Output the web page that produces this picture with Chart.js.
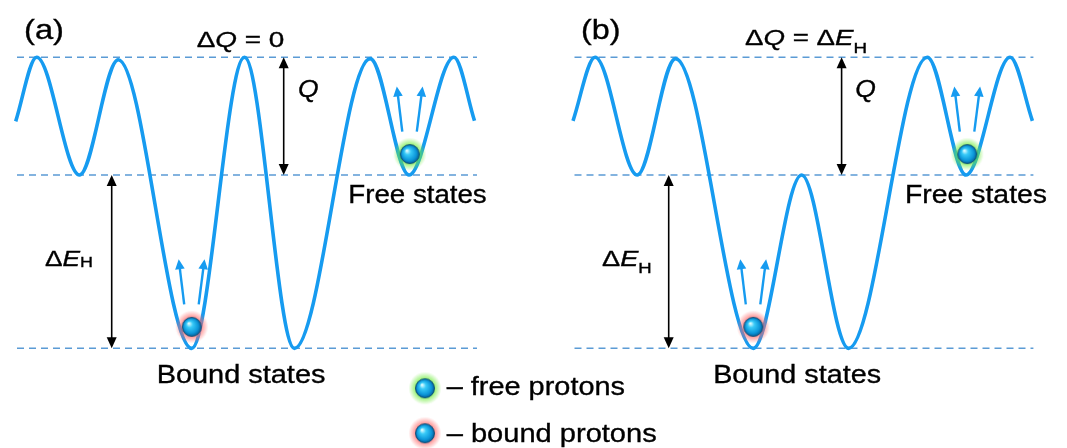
<!DOCTYPE html>
<html>
<head>
<meta charset="utf-8">
<script src="https://cdn.jsdelivr.net/npm/chart.js@4/dist/chart.umd.min.js"></script>
<style>
  html, body { margin: 0; padding: 0; background: #fff; }
  canvas { display: block; }
</style>
</head>
<body>
<canvas id="landscape" width="1067" height="448"></canvas>
<script>
// coordinate along the row, energy in units of ΔE_H above the bound level
const coordA = [15.7, 36.7, 79.5, 118.2, 191.7, 244.5, 294.4, 370.2, 409.0, 453.9, 474.5]
const energyA = [1.31, 1.68, 1.0, 1.665, 0, 1.68, 0, 1.672, 1.0, 1.68, 1.313]
const coordB = [573.0, 595.1, 637.2, 675.5, 753.3, 801.6, 848.5, 927.3, 966.0, 1010.1, 1032.4]
const energyB = [1.313, 1.68, 1.0, 1.672, 0, 1.0, 0, 1.68, 1.0, 1.68, 1.313]

// bound level, free level, barrier top
const levels = [0, 1, 1.68]
const spanA = [17, 477]
const spanB = [574.5, 1033.4]

// protons sitting in the wells
const freeCoord = [409.8, 967.3]
const freeEnergy = 1.121
const boundCoord = [191.7, 753.3]
const boundEnergy = 0.124

// double arrows: Q between free level and top, ΔE_H between bound and free level
const qArrowCoord = [283.7, 841.6]
const dEArrowCoord = [111.7, 668.7]

const BLUE = 'rgb(22,155,240)'
const DASH = '#5b9bd5'
const FONT = "'Liberation Sans', Arial, sans-serif"

function protonSprite(glow) {
  const size = 40
  const c = document.createElement('canvas')
  c.width = c.height = size
  const g = c.getContext('2d')
  const m = size / 2, r = 9.5
  const halo = g.createRadialGradient(m, m, r - 2, m, m, r + 7)
  halo.addColorStop(0, `rgba(${glow},0.9)`)
  halo.addColorStop(0.45, `rgba(${glow},0.5)`)
  halo.addColorStop(1, `rgba(${glow},0)`)
  g.fillStyle = halo
  g.fillRect(0, 0, size, size)
  const body = g.createRadialGradient(m - 3, m - 3.5, 0.5, m, m, r)
  body.addColorStop(0, '#dcfcff')
  body.addColorStop(0.3, '#38caf8')
  body.addColorStop(0.75, '#0c96d9')
  body.addColorStop(1, '#06609a')
  g.fillStyle = body
  g.beginPath()
  g.arc(m, m, r, 0, Math.PI * 2)
  g.fill()
  g.strokeStyle = 'rgba(5,70,110,0.85)'
  g.lineWidth = 1
  g.stroke()
  return c
}

const freeSprite = protonSprite('110,235,60')
const boundSprite = protonSprite('255,105,105')

const pts = (xs, ys) => xs.map((x, i) => ({ x, y: Array.isArray(ys) ? ys[i] : ys }))

function levelLine(span, e) {
  return {
    data: pts(span, e),
    borderColor: DASH,
    borderWidth: 1.5,
    borderDash: [7, 5],
    pointRadius: 0,
    order: 3
  }
}

// text pieces: [text, style] where style is '' | 'i' | 'sub'
const labels = [
  { runs: [['(a)']], left: 24, base: 39, size: 28, width: 40 },
  { runs: [['(b)']], left: 581, base: 39, size: 28, width: 39.5 },
  { runs: [['Δ'], ['Q', 'i'], [' = 0']], left: 196.7, base: 47.3, size: 22.5, width: 87.5 },
  { runs: [['Δ'], ['Q', 'i'], [' = Δ'], ['E', 'i'], ['H', 'sub']], left: 745, base: 45, size: 22.5, width: 122, subDy: 7.7 },
  { runs: [['Q', 'i']], left: 298, base: 97, size: 24, width: 20.6 },
  { runs: [['Q', 'i']], left: 855.3, base: 97, size: 24, width: 20.6 },
  { runs: [['Δ'], ['E', 'i'], ['H', 'sub']], left: 45, base: 266, size: 22, width: 48, subDy: 1 },
  { runs: [['Δ'], ['E', 'i'], ['H', 'sub']], left: 602, base: 265.5, size: 22, width: 49.7, subDy: 7.5 },
  { runs: [['Free states']], left: 348.3, base: 203.3, size: 25.5, width: 138.4 },
  { runs: [['Free states']], left: 905, base: 203.3, size: 25.5, width: 142 },
  { runs: [['Bound states']], left: 156.7, base: 382.7, size: 25, width: 168.7 },
  { runs: [['Bound states']], left: 713.2, base: 382.7, size: 25, width: 167.8 },
  { runs: [['– free protons']], left: 446.7, base: 395, size: 26.5, width: 178.3 },
  { runs: [['– bound protons']], left: 446.7, base: 441.7, size: 26.5, width: 210 }
]

function runFont(run, size) {
  if (run[1] === 'sub') return `${(size * 0.68).toFixed(1)}px ${FONT}`
  if (run[1] === 'i') return `italic ${size}px ${FONT}`
  return `${size}px ${FONT}`
}

function drawLabel(ctx, lab) {
  let natural = 0
  const widths = lab.runs.map(r => {
    ctx.font = runFont(r, lab.size)
    const w = ctx.measureText(r[0]).width
    natural += w
    return w
  })
  ctx.save()
  ctx.translate(lab.left, lab.base)
  ctx.scale(lab.width / natural, 1)
  ctx.fillStyle = '#000'
  ctx.strokeStyle = '#000'
  ctx.lineWidth = 0.35
  ctx.textBaseline = 'alphabetic'
  let cx = 0
  lab.runs.forEach((r, i) => {
    ctx.font = runFont(r, lab.size)
    const dy = r[1] === 'sub' ? (lab.subDy || 0) : 0
    ctx.fillText(r[0], cx, dy)
    ctx.strokeText(r[0], cx, dy)
    cx += widths[i]
  })
  ctx.restore()
}

function arrowHead(ctx, x0, y0, x1, y1, len, half) {
  const a = Math.atan2(y1 - y0, x1 - x0)
  ctx.beginPath()
  ctx.moveTo(x1, y1)
  ctx.lineTo(x1 - len * Math.cos(a) + half * Math.sin(a), y1 - len * Math.sin(a) - half * Math.cos(a))
  ctx.lineTo(x1 - len * Math.cos(a) - half * Math.sin(a), y1 - len * Math.sin(a) + half * Math.cos(a))
  ctx.closePath()
  ctx.fill()
}

function arrow(ctx, x0, y0, x1, y1, color, width, len, half, both) {
  const a = Math.atan2(y1 - y0, x1 - x0)
  ctx.strokeStyle = color
  ctx.fillStyle = color
  ctx.lineWidth = width
  ctx.beginPath()
  ctx.moveTo(both ? x0 + len * 0.8 * Math.cos(a) : x0, both ? y0 + len * 0.8 * Math.sin(a) : y0)
  ctx.lineTo(x1 - len * 0.8 * Math.cos(a), y1 - len * 0.8 * Math.sin(a))
  ctx.stroke()
  arrowHead(ctx, x0, y0, x1, y1, len, half)
  if (both) arrowHead(ctx, x1, y1, x0, y0, len, half)
}

const annotations = {
  id: 'annotations',
  afterDatasetsDraw(chart) {
    const { ctx } = chart
    const x = chart.scales.x, y = chart.scales.y
    ctx.save()
    ctx.lineCap = 'butt'

    // energy gaps
    qArrowCoord.forEach(c => {
      arrow(ctx, x.getPixelForValue(c), y.getPixelForValue(levels[1]),
        x.getPixelForValue(c), y.getPixelForValue(levels[2]), '#000', 1.6, 11, 5, true)
    })
    dEArrowCoord.forEach(c => {
      arrow(ctx, x.getPixelForValue(c), y.getPixelForValue(levels[0]),
        x.getPixelForValue(c), y.getPixelForValue(levels[1]), '#000', 1.6, 11, 5, true)
    })

    // thermal kicks above each proton
    const kicks = [...freeCoord.map(c => [c, freeEnergy]), ...boundCoord.map(c => [c, boundEnergy])]
    kicks.forEach(([c, e]) => {
      [[-7.5, -13], [7, 12.8]].forEach(([tail, tip]) => {
        arrow(ctx, x.getPixelForValue(c + tail), y.getPixelForValue(e + 0.13),
          x.getPixelForValue(c + tip), y.getPixelForValue(e + 0.39), BLUE, 2.4, 10, 4.8, false)
      })
    })

    // key
    ctx.drawImage(freeSprite, 425 - freeSprite.width / 2, 388.3 - freeSprite.height / 2)
    ctx.drawImage(boundSprite, 425 - boundSprite.width / 2, 433.3 - boundSprite.height / 2)

    labels.forEach(l => drawLabel(ctx, l))
    ctx.restore()
  }
}

new Chart(document.getElementById('landscape'), {
  type: 'line',
  data: {
    datasets: [
      { type: 'scatter', label: 'free protons', data: pts(freeCoord, freeEnergy), pointStyle: freeSprite, pointRadius: 9.5, order: 0 },
      { type: 'scatter', label: 'bound protons', data: pts(boundCoord, boundEnergy), pointStyle: boundSprite, pointRadius: 9.5, order: 0 },
      { label: '(a)', data: pts(coordA, energyA), borderColor: BLUE, borderWidth: 3.6, cubicInterpolationMode: 'monotone', pointRadius: 0, order: 1 },
      { label: '(b)', data: pts(coordB, energyB), borderColor: BLUE, borderWidth: 3.6, cubicInterpolationMode: 'monotone', pointRadius: 0, order: 1 },
      ...levels.map(e => levelLine(spanA, e)),
      ...levels.map(e => levelLine(spanB, e))
    ]
  },
  options: {
    responsive: false,
    animation: false,
    devicePixelRatio: 1,
    layout: { padding: 0, autoPadding: false },
    scales: {
      x: { type: 'linear', min: 0, max: 1067, display: false },
      y: { type: 'linear', min: -0.575, max: 2.01, display: false }
    },
    plugins: {
      legend: { display: false },
      tooltip: { enabled: false }
    }
  },
  plugins: [annotations]
})
</script>
</body>
</html>
